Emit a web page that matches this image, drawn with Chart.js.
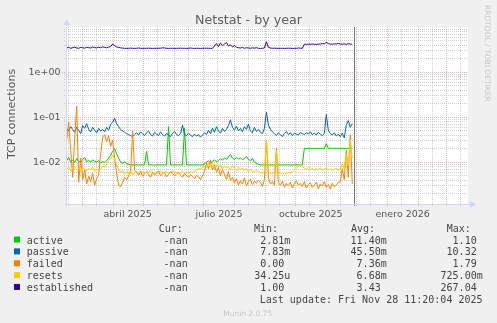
<!DOCTYPE html>
<html lang="es">
<head>
<meta charset="utf-8">
<title>Netstat - by year</title>
<script src="https://cdn.jsdelivr.net/npm/chart.js@4.4.1/dist/chart.umd.min.js"></script>
<style>
html,body{margin:0;padding:0;background:#f0f0f0;overflow:hidden}
#wrap{position:relative;width:497px;height:323px}
canvas{display:block}
</style>
</head>
<body>
<div id="wrap"><canvas id="netstat" width="497" height="323"></canvas></div>
<script>
// Day numbers counted from 1 Jan 2025 (day 0), one sample every two days
const days = [
  44,46,48,50,52,54,56,58,60,62,
  64,66,68,70,72,74,76,78,80,82,
  84,86,88,90,92,94,96,98,100,102,
  104,106,108,110,112,114,116,118,120,122,
  124,126,128,130,132,134,136,138,140,142,
  144,146,148,150,152,154,156,158,160,162,
  164,166,168,170,172,174,176,178,180,182,
  184,186,188,190,192,194,196,198,200,202,
  204,206,208,210,212,214,216,218,220,222,
  224,226,228,230,232,234,236,238,240,242,
  244,246,248,250,252,254,256,258,260,262,
  264,266,268,270,272,274,276,278,280,282,
  284,286,288,290,292,294,296,298,300,302,
  304,306,308,310,312,314,316,318,320,322,
  324,326,328,330
];

const active = [
  0.0105,0.0125,0.0098,0.0110,0.0095,0.0118,0.0102,0.0096,0.0112,0.0125,
  0.0100,0.0108,0.0096,0.0110,0.0102,0.0098,0.0106,0.0094,0.0100,0.0096,
  0.0105,0.0120,0.0140,0.0170,0.0195,0.0150,0.0120,0.0098,0.0092,0.0100,
  0.0090,0.0088,0.0085,0.0085,0.0085,0.0085,0.0085,0.0085,0.0085,0.0085,
  0.0170,0.0085,0.0085,0.0085,0.0085,0.0085,0.0085,0.0085,0.0085,0.0085,
  0.0085,0.0600,0.0085,0.0085,0.0085,0.0085,0.0085,0.0085,0.0085,0.0550,
  0.0085,0.0085,0.0085,0.0085,0.0085,0.0085,0.0085,0.0085,0.0085,0.0090,
  0.0098,0.0105,0.0095,0.0102,0.0110,0.0098,0.0106,0.0115,0.0108,0.0122,
  0.0112,0.0128,0.0145,0.0120,0.0112,0.0125,0.0115,0.0122,0.0110,0.0118,
  0.0130,0.0112,0.0105,0.0118,0.0098,0.0092,0.0088,0.0085,0.0085,0.0085,
  0.0085,0.0085,0.0085,0.0085,0.0085,0.0085,0.0085,0.0085,0.0085,0.0085,
  0.0085,0.0085,0.0085,0.0085,0.0085,0.0085,0.0085,0.0085,0.0085,0.0198,
  0.0198,0.0198,0.0198,0.0198,0.0198,0.0198,0.0198,0.0198,0.0198,0.0198,
  0.0250,0.0198,0.0198,0.0198,0.0198,0.0198,0.0198,0.0198,0.0198,0.0198,
  0.0198,0.0198,0.0198,0.0198
];

const passive = [
  0.055,0.048,0.060,0.052,0.045,0.058,0.050,0.042,0.063,0.055,
  0.070,0.052,0.046,0.058,0.050,0.044,0.055,0.048,0.052,0.046,
  0.058,0.050,0.068,0.075,0.092,0.070,0.060,0.052,0.048,0.045,
  0.042,0.040,0.038,0.036,0.040,0.044,0.039,0.046,0.042,0.038,
  0.044,0.048,0.040,0.037,0.045,0.041,0.038,0.046,0.040,0.037,
  0.042,0.039,0.036,0.043,0.047,0.040,0.038,0.042,0.065,0.040,
  0.038,0.043,0.039,0.036,0.041,0.037,0.040,0.035,0.039,0.044,
  0.040,0.050,0.042,0.056,0.045,0.060,0.048,0.043,0.055,0.047,
  0.052,0.064,0.085,0.058,0.050,0.062,0.048,0.055,0.046,0.060,
  0.052,0.068,0.048,0.044,0.058,0.047,0.052,0.045,0.042,0.055,
  0.125,0.065,0.052,0.046,0.042,0.038,0.044,0.040,0.036,0.042,
  0.047,0.040,0.044,0.038,0.043,0.041,0.039,0.045,0.042,0.040,
  0.044,0.041,0.046,0.040,0.043,0.039,0.045,0.041,0.038,0.042,
  0.112,0.050,0.042,0.039,0.044,0.037,0.041,0.036,0.043,0.034,
  0.065,0.082,0.058,0.070
];

const failed = [
  0.030,0.075,0.018,0.0045,0.035,0.170,0.0035,0.0120,0.0040,0.0065,
  0.0032,0.0048,0.0036,0.0055,0.0030,0.0042,0.0050,0.015,0.035,0.040,
  0.028,0.038,0.022,0.030,0.012,0.0055,0.0030,0.0028,0.0035,0.0045,
  0.0040,0.0048,0.0060,0.048,0.0065,0.0058,0.0050,0.0062,0.0047,0.0055,
  0.0060,0.0052,0.0045,0.0058,0.0050,0.0056,0.0062,0.0049,0.0054,0.0058,
  0.0046,0.0052,0.0060,0.0055,0.0048,0.0053,0.0059,0.0050,0.0045,0.0055,
  0.0049,0.0044,0.0052,0.0047,0.0042,0.0050,0.0046,0.0040,0.0048,0.0060,
  0.0095,0.0070,0.0110,0.0065,0.0085,0.0058,0.0075,0.0048,0.0068,0.0052,
  0.0040,0.0060,0.0038,0.0045,0.0034,0.0042,0.0030,0.0038,0.0032,0.0044,
  0.0029,0.0036,0.0041,0.0031,0.0037,0.0033,0.0039,0.0035,0.0028,0.0040,
  0.030,0.0045,0.0032,0.0036,0.0030,0.020,0.0034,0.0030,0.0037,0.0027,
  0.0033,0.0029,0.0035,0.0026,0.0032,0.0038,0.0030,0.0033,0.0028,0.0036,
  0.0026,0.0031,0.0034,0.0027,0.0030,0.0035,0.0025,0.0032,0.0029,0.0036,
  0.0027,0.0031,0.0025,0.0033,0.0028,0.0030,0.0035,0.0035,0.0070,0.0040,
  0.0180,0.0045,0.0400,0.0032
];

const resets = [
  0.0068,0.0075,0.0062,0.0070,0.0080,0.0065,0.0072,0.0060,0.0074,0.0068,
  0.0063,0.0071,0.0066,0.0075,0.0061,0.0069,0.0064,0.0070,0.0080,0.0075,
  0.0090,0.0105,0.0120,0.0140,0.0110,0.0085,0.0070,0.0058,0.0065,0.0052,
  0.0060,0.0055,0.0062,0.0050,0.0058,0.0060,0.0056,0.0062,0.0058,0.0055,
  0.0061,0.0057,0.0063,0.0059,0.0054,0.0060,0.0058,0.0062,0.0056,0.0059,
  0.0061,0.0055,0.0058,0.0063,0.0057,0.0060,0.0054,0.0058,0.0062,0.0056,
  0.0059,0.0055,0.0060,0.0057,0.0061,0.0065,0.0070,0.0068,0.0075,0.0080,
  0.0072,0.0090,0.0078,0.0095,0.0070,0.0085,0.0075,0.0088,0.0068,0.0080,
  0.0072,0.0076,0.0065,0.0082,0.0070,0.0063,0.0075,0.0068,0.0072,0.0064,
  0.0070,0.0060,0.0068,0.0062,0.0058,0.0065,0.0060,0.0058,0.0055,0.0060,
  0.0300,0.0062,0.0056,0.0054,0.0058,0.0180,0.0055,0.0057,0.0053,0.0056,
  0.0054,0.0058,0.0055,0.0060,0.0065,0.0072,0.0080,0.0085,0.0078,0.0072,
  0.0068,0.0074,0.0066,0.0071,0.0064,0.0070,0.0067,0.0073,0.0065,0.0069,
  0.0072,0.0066,0.0070,0.0063,0.0068,0.0071,0.0065,0.0068,0.0090,0.0070,
  0.0150,0.0080,0.0300,0.0120
];

const established = [
  3.35,3.45,3.30,3.40,3.50,3.35,3.30,3.45,3.38,3.32,
  3.48,3.40,3.35,3.52,3.42,3.36,3.48,3.40,3.55,3.45,
  3.38,3.50,3.60,4.10,3.80,3.55,3.45,3.38,3.32,3.30,
  3.28,3.30,3.32,3.30,3.28,3.30,3.35,3.30,3.28,3.30,
  3.30,3.32,3.30,3.28,3.30,3.30,3.30,3.32,3.38,3.35,
  3.30,3.28,3.30,3.30,3.28,3.30,3.30,3.32,3.30,3.30,
  3.28,3.30,3.35,3.30,3.28,3.30,3.30,3.28,3.30,3.30,
  3.32,3.30,3.28,3.30,3.70,4.20,3.60,4.35,3.75,4.10,
  4.45,3.70,3.95,3.55,3.80,3.50,3.40,3.35,3.45,3.30,
  3.40,3.35,3.30,3.38,3.32,3.40,3.30,3.28,3.30,3.35,
  4.60,3.45,3.35,3.30,3.32,3.30,3.28,3.30,3.30,3.28,
  3.30,3.32,3.30,3.28,3.30,3.30,3.35,3.32,3.30,4.05,
  4.05,4.08,4.05,4.10,4.05,4.05,4.08,4.10,4.20,4.15,
  4.45,4.20,4.10,4.05,4.15,4.10,4.25,4.10,4.08,4.12,
  4.05,4.18,4.10,4.05
];

// Legend texts
const seriesNames = ['active', 'passive', 'failed', 'resets', 'established'];
const seriesColors = ['#00cc00', '#0066b3', '#ff8000', '#ffcc00', '#330099'];
const curValues = ['-nan ', '-nan ', '-nan ', '-nan ', '-nan '];
const minValues = ['2.81m', '7.83m', '0.00 ', '34.25u', '1.00 '];
const avgValues = ['11.40m', '45.50m', '7.36m', '6.68m', '3.43 '];
const maxValues = ['1.10 ', '10.32 ', '1.79 ', '725.00m', '267.04 '];
const lastUpdate = 'Last update: Fri Nov 28 11:20:04 2025';

// Time axis: first day of each month and the quarter labels
const monthStarts = [31, 59, 90, 120, 151, 181, 212, 243, 273, 304, 334, 365, 396, 424, 455];
const quarterLabels = ['abril 2025', 'julio 2025', 'octubre 2025', 'enero 2026'];
const quarterMonths = [90, 181, 273, 365];
const quarterMonthEnds = [120, 212, 304, 396];
const lastUpdateDay = 331.47;

// Value axis labels
const decadeValues = [0.01, 0.1, 1];
const decadeLabels = ['1e-02', '1e-01', '1e+00'];

const xMin = 43.3, xMax = 445.9;
const yMin = 0.00115, yMax = 9.8;

const FONT = '"DejaVu Sans", "Liberation Sans", sans-serif';
const MONO = '"DejaVu Sans Mono", "Liberation Mono", monospace';

function line(ctx, x0, y0, x1, y1) {
  ctx.beginPath();
  ctx.moveTo(x0, y0);
  ctx.lineTo(x1, y1);
  ctx.stroke();
}
const snap = v => Math.round(v) + 0.5;

const rrdFrame = {
  id: 'rrdFrame',
  beforeDraw(chart) {
    const { ctx, chartArea: a } = chart;
    const xs = chart.scales.x, ys = chart.scales.y;
    ctx.save();
    ctx.fillStyle = '#f0f0f0';
    ctx.fillRect(0, 0, chart.width, chart.height);
    ctx.fillStyle = '#ffffff';
    ctx.fillRect(a.left, a.top, a.right - a.left, a.bottom - a.top);

    ctx.lineWidth = 1;
    ctx.setLineDash([1, 1]);

    // minor grid
    ctx.strokeStyle = 'rgba(150,150,150,0.45)';
    for (let e = -4; e <= 1; e++) {
      for (let m = 2; m <= 9; m++) {
        const v = m * Math.pow(10, e);
        if (v < yMin || v > yMax) continue;
        const y = snap(ys.getPixelForValue(v));
        line(ctx, a.left - 2, y, a.right, y);
      }
    }
    monthStarts.forEach(d => {
      const md = d + 14;
      if (md < xMin || md > xMax) return;
      const x = snap(xs.getPixelForValue(md));
      line(ctx, x, a.top, x, a.bottom + 2);
    });

    // major grid
    ctx.strokeStyle = 'rgba(230,110,110,0.5)';
    decadeValues.forEach(v => {
      const y = snap(ys.getPixelForValue(v));
      line(ctx, a.left - 4, y, a.right, y);
    });
    monthStarts.forEach(d => {
      if (d < xMin || d > xMax) return;
      const x = snap(xs.getPixelForValue(d));
      line(ctx, x, a.top, x, a.bottom + 3);
    });
    ctx.restore();
  },
  afterDatasetsDraw(chart) {
    const { ctx, chartArea: a } = chart;
    const xs = chart.scales.x, ys = chart.scales.y;
    ctx.save();
    ctx.lineWidth = 1;
    ctx.setLineDash([]);

    // time of last update
    ctx.strokeStyle = '#777777';
    const xn = snap(xs.getPixelForValue(lastUpdateDay));
    line(ctx, xn, a.top, xn, a.bottom + 2);

    // axes with arrows
    ctx.strokeStyle = '#cfd6f8';
    ctx.fillStyle = '#cfd6f8';
    const ax = snap(a.left), ay = snap(a.bottom);
    line(ctx, ax, ay + 2, ax, a.top - 2);
    line(ctx, ax - 2, ay, a.right + 2, ay);
    ctx.beginPath();
    ctx.moveTo(ax - 3, a.top - 2); ctx.lineTo(ax + 3.5, a.top - 2); ctx.lineTo(ax + 0.25, a.top - 8); ctx.closePath(); ctx.fill();
    ctx.beginPath();
    ctx.moveTo(a.right + 2, ay - 3.5); ctx.lineTo(a.right + 2, ay + 3.5); ctx.lineTo(a.right + 8, ay); ctx.closePath(); ctx.fill();

    // value labels
    ctx.fillStyle = '#555555';
    ctx.font = '9.5px ' + FONT;
    ctx.textAlign = 'right';
    ctx.textBaseline = 'middle';
    decadeValues.forEach((v, i) => {
      ctx.fillText(decadeLabels[i], 60.5, ys.getPixelForValue(v) + 0.5);
    });

    // time labels
    ctx.textAlign = 'center';
    ctx.textBaseline = 'alphabetic';
    quarterLabels.forEach((t, i) => {
      const mid = (quarterMonths[i] + quarterMonthEnds[i]) / 2;
      ctx.fillText(t, xs.getPixelForValue(mid), 216.8);
    });

    // title
    ctx.fillStyle = '#606060';
    ctx.font = '12.7px ' + FONT;
    ctx.fillText('Netstat - by year', 248.5, 24);

    // vertical axis title
    ctx.save();
    ctx.translate(15, 114);
    ctx.rotate(-Math.PI / 2);
    ctx.font = '11px ' + FONT;
    ctx.fillStyle = '#555555';
    ctx.textAlign = 'center';
    ctx.fillText('TCP connections', 0, 0);
    ctx.restore();

    // watermark
    ctx.save();
    ctx.translate(485, 5);
    ctx.rotate(Math.PI / 2);
    ctx.font = '7.5px ' + FONT;
    ctx.fillStyle = '#c8c8c8';
    ctx.textAlign = 'left';
    ctx.fillText('RRDTOOL / TOBI OETIKER', 0, 0);
    ctx.restore();

    // legend
    ctx.font = '10px ' + MONO;
    ctx.fillStyle = '#444444';
    ctx.textAlign = 'left';
    const base0 = 231.7, step = 11.85;
    ctx.fillText('Cur:', 158.7, base0);
    ctx.fillText('Min:', 254, base0);
    ctx.fillText('Avg:', 351, base0);
    ctx.fillText('Max:', 446.7, base0);
    seriesNames.forEach((n, i) => {
      const b = base0 + step * (i + 1);
      ctx.fillStyle = seriesColors[i];
      ctx.fillRect(14, b - 7, 6, 6);
      ctx.fillStyle = '#444444';
      ctx.textAlign = 'left';
      ctx.fillText(n, 26.7, b);
      ctx.textAlign = 'right';
      ctx.fillText(curValues[i], 193.7, b);
      ctx.fillText(minValues[i], 290.3, b);
      ctx.fillText(avgValues[i], 386.7, b);
      ctx.fillText(maxValues[i], 482.7, b);
    });
    ctx.textAlign = 'right';
    ctx.fillText(lastUpdate, 482.5, base0 + step * 6);

    ctx.font = '7.5px ' + FONT;
    ctx.fillStyle = '#c8c8c8';
    ctx.textAlign = 'center';
    ctx.fillText('Munin 2.0.75', 247.7, 315.5);
    ctx.restore();
  }
};

const seriesValues = [active, passive, failed, resets, established];
const drawOrder = [4, 3, 2, 1, 0];

new Chart(document.getElementById('netstat'), {
  type: 'line',
  data: {
    datasets: seriesNames.map((name, i) => ({
      label: name,
      data: days.map((d, k) => ({ x: d, y: seriesValues[i][k] })),
      borderColor: seriesColors[i],
      borderWidth: 1,
      borderJoinStyle: 'round',
      pointRadius: 0,
      tension: 0,
      fill: false,
      order: drawOrder[i]
    }))
  },
  options: {
    responsive: false,
    animation: false,
    devicePixelRatio: 1,
    events: [],
    layout: { padding: { left: 66, top: 27, right: 29, bottom: 119 } },
    plugins: { legend: { display: false }, tooltip: { enabled: false }, title: { display: false } },
    scales: {
      x: { type: 'linear', min: xMin, max: xMax, display: false },
      y: { type: 'logarithmic', min: yMin, max: yMax, display: false }
    }
  },
  plugins: [rrdFrame]
});
</script>
</body>
</html>
